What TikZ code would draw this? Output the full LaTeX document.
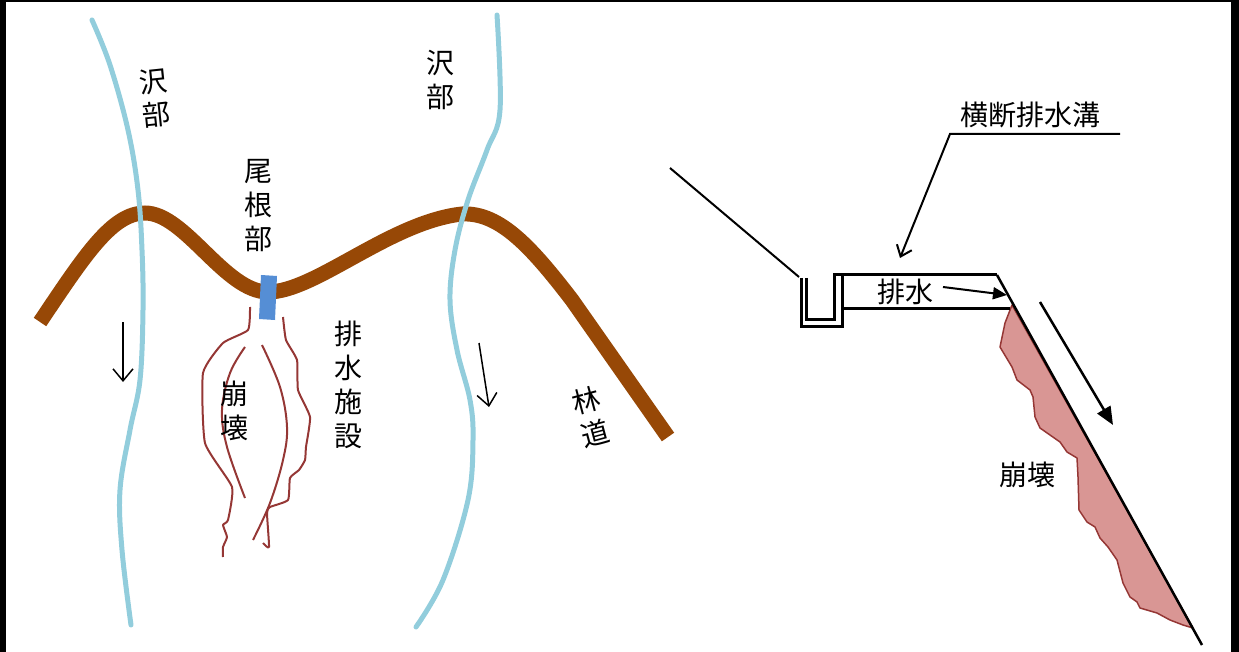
\documentclass[tikz,border=0pt]{standalone}
\usepackage{fontspec}
\newfontfamily\jp{Noto Sans CJK JP}
\usetikzlibrary{arrows.meta}

\definecolor{streamblue}{RGB}{146,205,220}
\definecolor{roadbrown}{RGB}{151,72,6}
\definecolor{drainblue}{RGB}{85,142,213}
\definecolor{crackred}{RGB}{149,55,53}
\definecolor{slidepink}{RGB}{217,150,148}

\begin{document}
\begin{tikzpicture}[x=1pt, y=-1pt,
        lbl/.style={font=\jp\fontsize{28}{34}\selectfont, align=center, inner sep=0pt},
        stream/.style={draw=streamblue, line width=5pt, line cap=round},
        road/.style={draw=roadbrown, line width=15pt},
        crack/.style={draw=crackred, line width=2pt, line join=round},
        flow/.style={black, line width=1.5pt, -{Straight Barb[length=12pt, width=20pt]}},
        wall/.style={black, line width=3pt},
    ]
    \useasboundingbox (0,0) rectangle (1239,652);
    \fill[black] (0,0) rectangle (6,652);
    \fill[black] (0,0) rectangle (1239,2);
    \fill[black] (1231,0) rectangle (1239,652);

    % plan view
    \draw[road] (40,322) .. controls (85,255) and (112,213) .. (145,213)
        .. controls (185,213) and (225,292) .. (268,292)
        .. controls (315,292) and (390,222) .. (462,214)
        .. controls (500,212) and (532,248) .. (572,300) -- (668,437);
    \draw[stream] plot[smooth, tension=0.6] coordinates {(92,20) (110,65) (128,130) (138,190)
        (142,250) (143,310) (140,380) (130,430) (120,490) (122,550) (131,625)};
    \draw[stream] plot[smooth, tension=0.6] coordinates {(497,15) (500,110) (487,150) (468,200)
        (455,250) (450,300) (457,350) (470,400) (473,440) (468,500) (443,580) (416,627)};
    \fill[drainblue] (261,275) -- (277,276) -- (275,320) -- (259,319) -- cycle;

    \draw[crack] plot[smooth, tension=0.3] coordinates {(250,307) (248,330) (223,343) (203,373)
        (205,443) (232,487) (228,520) (223,525) (227,537) (223,547) (223,557)};
    \draw[crack] plot[smooth, tension=0.6] coordinates {(245,347) (230,373) (222,410) (227,447) (245,498)};
    \draw[crack] plot[smooth, tension=0.6] coordinates {(262,345) (280,387) (287,427) (283,460) (270,503) (253,540)};
    \draw[crack] plot[smooth, tension=0.3] coordinates {(283,317) (286,340) (297,360) (298,390)
        (310,417) (306,447) (305,460) (299,470) (290,478) (288,500) (270,507) (267,513) (269,547) (263,543)};

    \coordinate (flowa1) at (123,322);
    \coordinate (flowa2) at (123,382);
    \coordinate (flowb1) at (479,343);
    \coordinate (flowb2) at (489,407);
    \draw[flow] (flowa1) -- (flowa2);
    \draw[flow] (flowb1) -- (flowb2);

    \node[lbl, rotate=6] (sawa1) at (155,98) {沢\\部};
    \node[lbl] (sawa2) at (440,80) {沢\\部};
    \node[lbl] (one) at (258,206) {尾\\根\\部};
    \node[lbl] (houkai1) at (234,411) {崩\\壊};
    \node[lbl] (haisui) at (348,385) {排\\水\\施\\設};
    \node[lbl, rotate=15] (rindo) at (591,417) {林\\道};

    % cross section
    \fill[slidepink, draw=crackred, line width=1.5pt, line join=round] (1012,305) -- (1193,628)
        -- (1183,625) -- (1170,620) -- (1157,613) -- (1140,608) -- (1137,602) -- (1130,597)
        -- (1123,583) -- (1117,560) -- (1108,547) -- (1100,538) -- (1095,527) -- (1087,522)
        -- (1079,510) -- (1078,477) -- (1077,458) -- (1067,452) -- (1060,442) -- (1040,428)
        -- (1035,417) -- (1033,397) -- (1030,390) -- (1017,380) -- (1012,367) -- (1000,347)
        -- (1005,323) -- cycle;

    \draw[black, line width=2pt] (670,168) -- (799,277);
    \draw[wall] (806,278) -- (806,319) -- (834,319) -- (834,275) -- (997,275);
    \draw[wall] (801,278) -- (801,326) -- (842,326) -- (842,276);
    \draw[wall] (842,308) -- (1010,308);
    \draw[black, line width=2.5pt] (997,275) -- (1202,645);

    \node[lbl] (drain) at (905,292) {排水};
    \coordinate (drainstart) at (943,287);
    \coordinate (drainend) at (1007,295);
    \draw[black, line width=2pt, -{Triangle[length=14pt, width=12pt]}] (drainstart) -- (drainend);

    \coordinate (slide1) at (1040,302);
    \coordinate (slide2) at (1113,425);
    \draw[black, line width=2.5pt, -{Triangle[length=18pt, width=15pt]}] (slide1) -- (slide2);
    \node[lbl] (houkai2) at (1027,475) {崩壊};

    \node[lbl] (ditch) at (1030,115) {横断排水溝};
    \coordinate (leadr) at (1120,134);
    \coordinate (leadl) at (950,134);
    \coordinate (ditchtip) at (900,258);
    \draw[black, line width=2pt, -{Straight Barb[length=10pt, width=16pt]}] (leadr) -- (leadl) -- (ditchtip);
\end{tikzpicture}
\end{document}
